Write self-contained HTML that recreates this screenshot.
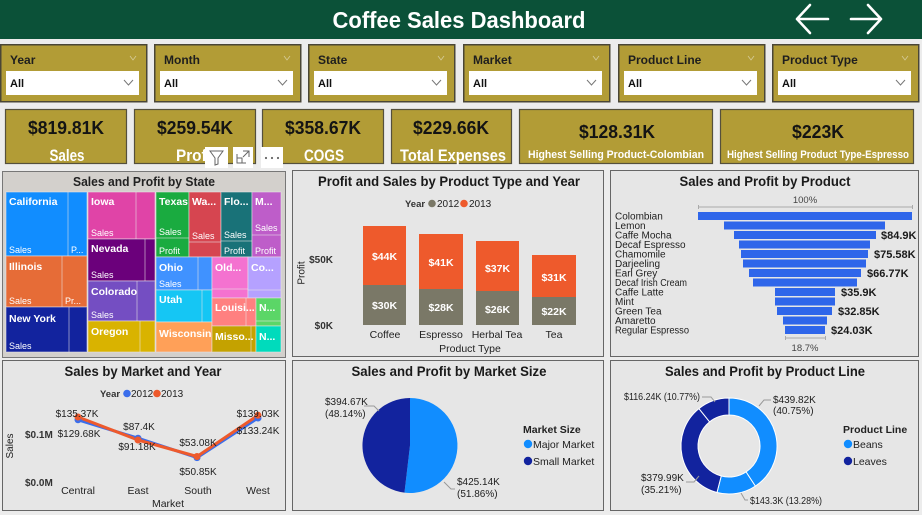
<!DOCTYPE html>
<html><head><meta charset="utf-8"><style>
html,body{margin:0;padding:0;background:#ececec;}
svg{display:block;}
text{font-family:"Liberation Sans",Arial,sans-serif;}
.b{font-weight:bold;}
</style></head><body>
<svg width="922" height="515" viewBox="0 0 922 515" xmlns="http://www.w3.org/2000/svg">
<rect x="0" y="0" width="922" height="515" fill="#ececec"/>
<!-- Header -->
<rect x="0" y="0" width="922" height="39" fill="#0B5138"/>
<text x="459" y="28" text-anchor="middle" class="b" font-size="23" fill="#fff" textLength="253" lengthAdjust="spacingAndGlyphs">Coffee Sales Dashboard</text>
<g stroke="#fff" stroke-width="2.6" fill="none" stroke-linecap="round" stroke-linejoin="round">
<path d="M828,19 L797,19 M810,5 L797,19 L810,33"/>
<path d="M851,19 L881,19 M868,5 L881,19 L868,33"/>
</g>
<!-- Slicers -->
<g>
<g transform="translate(0,0)">
<rect x="0.75" y="44.75" width="146" height="57" fill="#B29C36" stroke="#4a4636" stroke-width="1.5"/>
<text x="10" y="64" class="b" font-size="12" fill="#1e1e1e">Year</text>
<path d="M130,56 L133,60 L136,56" stroke="#d6cb98" stroke-width="0.8" fill="none"/>
<rect x="6" y="71" width="133" height="24" fill="#fff"/>
<text x="10" y="87" class="b" font-size="11" fill="#111">All</text>
<path d="M124,80 L128.5,85 L133,80" stroke="#777" stroke-width="1" fill="none"/>
</g>
<g transform="translate(154,0)">
<rect x="0.75" y="44.75" width="146" height="57" fill="#B29C36" stroke="#4a4636" stroke-width="1.5"/>
<text x="10" y="64" class="b" font-size="12" fill="#1e1e1e">Month</text>
<path d="M130,56 L133,60 L136,56" stroke="#d6cb98" stroke-width="0.8" fill="none"/>
<rect x="6" y="71" width="133" height="24" fill="#fff"/>
<text x="10" y="87" class="b" font-size="11" fill="#111">All</text>
<path d="M124,80 L128.5,85 L133,80" stroke="#777" stroke-width="1" fill="none"/>
</g>
<g transform="translate(308,0)">
<rect x="0.75" y="44.75" width="146" height="57" fill="#B29C36" stroke="#4a4636" stroke-width="1.5"/>
<text x="10" y="64" class="b" font-size="12" fill="#1e1e1e">State</text>
<path d="M130,56 L133,60 L136,56" stroke="#d6cb98" stroke-width="0.8" fill="none"/>
<rect x="6" y="71" width="133" height="24" fill="#fff"/>
<text x="10" y="87" class="b" font-size="11" fill="#111">All</text>
<path d="M124,80 L128.5,85 L133,80" stroke="#777" stroke-width="1" fill="none"/>
</g>
<g transform="translate(463,0)">
<rect x="0.75" y="44.75" width="146" height="57" fill="#B29C36" stroke="#4a4636" stroke-width="1.5"/>
<text x="10" y="64" class="b" font-size="12" fill="#1e1e1e">Market</text>
<path d="M130,56 L133,60 L136,56" stroke="#d6cb98" stroke-width="0.8" fill="none"/>
<rect x="6" y="71" width="133" height="24" fill="#fff"/>
<text x="10" y="87" class="b" font-size="11" fill="#111">All</text>
<path d="M124,80 L128.5,85 L133,80" stroke="#777" stroke-width="1" fill="none"/>
</g>
<g transform="translate(618,0)">
<rect x="0.75" y="44.75" width="146" height="57" fill="#B29C36" stroke="#4a4636" stroke-width="1.5"/>
<text x="10" y="64" class="b" font-size="12" fill="#1e1e1e">Product Line</text>
<path d="M130,56 L133,60 L136,56" stroke="#d6cb98" stroke-width="0.8" fill="none"/>
<rect x="6" y="71" width="133" height="24" fill="#fff"/>
<text x="10" y="87" class="b" font-size="11" fill="#111">All</text>
<path d="M124,80 L128.5,85 L133,80" stroke="#777" stroke-width="1" fill="none"/>
</g>
<g transform="translate(772,0)">
<rect x="0.75" y="44.75" width="146" height="57" fill="#B29C36" stroke="#4a4636" stroke-width="1.5"/>
<text x="10" y="64" class="b" font-size="12" fill="#1e1e1e">Product Type</text>
<path d="M130,56 L133,60 L136,56" stroke="#d6cb98" stroke-width="0.8" fill="none"/>
<rect x="6" y="71" width="133" height="24" fill="#fff"/>
<text x="10" y="87" class="b" font-size="11" fill="#111">All</text>
<path d="M124,80 L128.5,85 L133,80" stroke="#777" stroke-width="1" fill="none"/>
</g>
</g>
<!-- KPI cards -->
<g fill="#B29C36" stroke="#55503c" stroke-width="1.2">
<rect x="5.5" y="109.5" width="121" height="54"/>
<rect x="134.5" y="109.5" width="121" height="54"/>
<rect x="262.5" y="109.5" width="121" height="54"/>
<rect x="391.5" y="109.5" width="120" height="54"/>
<rect x="519.5" y="109.5" width="193" height="54"/>
<rect x="720.5" y="109.5" width="193" height="54"/>
</g>
<g fill="#141414" class="b" text-anchor="middle">
<text x="66" y="134" font-size="18" class="b" textLength="76" lengthAdjust="spacingAndGlyphs">$819.81K</text>
<text x="67" y="161" font-size="17" class="b" fill="#fff" textLength="35" lengthAdjust="spacingAndGlyphs">Sales</text>
<text x="195" y="134" font-size="18" class="b" textLength="76" lengthAdjust="spacingAndGlyphs">$259.54K</text>
<text x="196" y="161" font-size="17" class="b" fill="#fff" textLength="40" lengthAdjust="spacingAndGlyphs">Profit</text>
<text x="323" y="134" font-size="18" class="b" textLength="76" lengthAdjust="spacingAndGlyphs">$358.67K</text>
<text x="324" y="161" font-size="17" class="b" fill="#fff" textLength="40" lengthAdjust="spacingAndGlyphs">COGS</text>
<text x="451" y="134" font-size="18" class="b" textLength="76" lengthAdjust="spacingAndGlyphs">$229.66K</text>
<text x="453" y="161" font-size="17" class="b" fill="#fff" textLength="106" lengthAdjust="spacingAndGlyphs">Total Expenses</text>
<text x="617" y="138" font-size="18" class="b" textLength="76" lengthAdjust="spacingAndGlyphs">$128.31K</text>
<text x="616" y="158" font-size="11" class="b" fill="#fff" textLength="176" lengthAdjust="spacingAndGlyphs">Highest Selling Product-Colombian</text>
<text x="818" y="138" font-size="18" class="b" textLength="52" lengthAdjust="spacingAndGlyphs">$223K</text>
<text x="818" y="158" font-size="11" class="b" fill="#fff" textLength="182" lengthAdjust="spacingAndGlyphs">Highest Selling Product Type-Espresso</text>
</g>
<!-- Panels -->
<rect x="2.5" y="171.5" width="283" height="186" fill="#d3d0cc" stroke="#777" stroke-width="1"/>
<rect x="292.5" y="170.5" width="311" height="186" fill="#e6e6e6" stroke="#666" stroke-width="1"/>
<rect x="610.5" y="170.5" width="308" height="186" fill="#e6e6e6" stroke="#666" stroke-width="1"/>
<rect x="2.5" y="360.5" width="283" height="150" fill="#e6e6e6" stroke="#666" stroke-width="1"/>
<rect x="292.5" y="360.5" width="311" height="150" fill="#e6e6e6" stroke="#666" stroke-width="1"/>
<rect x="610.5" y="360.5" width="308" height="150" fill="#e6e6e6" stroke="#666" stroke-width="1"/>
<!-- Visual header icons -->
<rect x="205" y="147" width="23" height="21" fill="#fff"/>
<rect x="233" y="147" width="20" height="21" fill="#fff"/>
<rect x="261" y="147" width="22" height="21" fill="#fff"/>
<path d="M210,151 L223,151 L218,158 L218,164 L215,165 L215,158 Z" fill="none" stroke="#666" stroke-width="1"/>
<path d="M237,154 L237,163 L246,163 M237,158 L242,158 L242,163 M243,151 L249,151 L249,157 M249,151 L243,157" fill="none" stroke="#666" stroke-width="1"/>
<g fill="#666"><circle cx="266" cy="158" r="1.1"/><circle cx="272" cy="158" r="1.1"/><circle cx="278" cy="158" r="1.1"/></g>
<!-- Treemap -->
<text x="144" y="186" text-anchor="middle" class="b" font-size="13" fill="#222" textLength="142" lengthAdjust="spacingAndGlyphs">Sales and Profit by State</text>
<g stroke="#e9e5e8" stroke-opacity="0.55" stroke-width="1">
<rect x="6" y="192" width="81" height="64" fill="#118DFF"/>
<rect x="6" y="256" width="81" height="51" fill="#E66C37"/>
<rect x="6" y="307" width="81" height="45" fill="#12239E"/>
<rect x="88" y="192" width="67" height="47" fill="#E044A7"/>
<rect x="88" y="239" width="67" height="42" fill="#6B007B"/>
<rect x="88" y="281" width="67" height="40" fill="#744EC2"/>
<rect x="88" y="321" width="67" height="31" fill="#D9B300"/>
<rect x="156" y="192" width="33" height="65" fill="#1AAB40"/>
<rect x="189" y="192" width="32" height="65" fill="#D64550"/>
<rect x="221" y="192" width="31" height="65" fill="#197278"/>
<rect x="252" y="192" width="29" height="65" fill="#BE5DC9"/>
<rect x="156" y="257" width="56" height="33" fill="#4092FF"/>
<rect x="156" y="290" width="56" height="32" fill="#15C6F4"/>
<rect x="156" y="322" width="56" height="30" fill="#FFA058"/>
<rect x="212" y="257" width="36" height="41" fill="#F472D0"/>
<rect x="248" y="257" width="33" height="41" fill="#B5A1FF"/>
<rect x="212" y="298" width="44" height="28" fill="#FF8080"/>
<rect x="256" y="298" width="25" height="28" fill="#5BD667"/>
<rect x="212" y="326" width="44" height="26" fill="#C4A200"/>
<rect x="256" y="326" width="25" height="26" fill="#00DBBC"/>
<path d="M68,192 V256 M62,256 V307 M69,307 V352 M136,192 V239 M145,239 V281 M137,281 V321 M140,321 V352 M156,238 H189 M189,242 H221 M221,241 H252 M252,235 H281 M198,257 V290 M202,290 V322 M212,289 H248 M248,290 H281 M246,298 V326 M256,321 H281 M251,326 V352" fill="none"/>
</g>
<g fill="#fff" font-size="10.5" class="b">
<text x="9" y="205">California</text>
<text x="9" y="270">Illinois</text>
<text x="9" y="322">New York</text>
<text x="91" y="205">Iowa</text>
<text x="91" y="252">Nevada</text>
<text x="91" y="295">Colorado</text>
<text x="91" y="335">Oregon</text>
<text x="159" y="205">Texas</text>
<text x="192" y="205">Wa...</text>
<text x="224" y="205">Flo...</text>
<text x="255" y="205">M...</text>
<text x="159" y="271">Ohio</text>
<text x="159" y="303">Utah</text>
<text x="159" y="337">Wisconsin</text>
<text x="215" y="271">Old...</text>
<text x="251" y="271">Co...</text>
<text x="215" y="311">Louisi...</text>
<text x="259" y="311">N...</text>
<text x="215" y="340">Misso...</text>
<text x="259" y="340">N...</text>
</g>
<g fill="#fff" font-size="9">
<text x="9" y="253">Sales</text><text x="71" y="253">P...</text>
<text x="9" y="304">Sales</text><text x="65" y="304">Pr...</text>
<text x="9" y="349">Sales</text>
<text x="91" y="236">Sales</text>
<text x="91" y="278">Sales</text>
<text x="91" y="318">Sales</text>
<text x="159" y="235">Sales</text><text x="159" y="254">Profit</text>
<text x="192" y="239">Sales</text>
<text x="224" y="238">Sales</text><text x="224" y="254">Profit</text>
<text x="255" y="231">Sales</text><text x="255" y="254">Profit</text>
<text x="159" y="287">Sales</text>
</g>
<!-- Profit and Sales by Product Type and Year -->
<text x="449" y="186" text-anchor="middle" class="b" font-size="14" fill="#1a1a1a" textLength="262" lengthAdjust="spacingAndGlyphs">Profit and Sales by Product Type and Year</text>
<text x="405" y="207" class="b" font-size="9.5" fill="#333">Year</text>
<circle cx="432" cy="203.5" r="3.8" fill="#7A7867"/>
<text x="437" y="207" font-size="10" fill="#222">2012</text>
<circle cx="464" cy="203.5" r="3.8" fill="#EE5A2C"/>
<text x="469" y="207" font-size="10" fill="#222">2013</text>
<g fill="#EE5A2C">
<rect x="363" y="226" width="43" height="59"/>
<rect x="419" y="234" width="44" height="55"/>
<rect x="476" y="241" width="43" height="50"/>
<rect x="532" y="255" width="44" height="42"/>
</g>
<g fill="#7A7867">
<rect x="363" y="285" width="43" height="40"/>
<rect x="419" y="289" width="44" height="36"/>
<rect x="476" y="291" width="43" height="34"/>
<rect x="532" y="297" width="44" height="28"/>
</g>
<g fill="#fff" class="b" font-size="10.5" text-anchor="middle">
<text x="384.5" y="260">$44K</text><text x="384.5" y="309">$30K</text>
<text x="441" y="266">$41K</text><text x="441" y="311">$28K</text>
<text x="497.5" y="272">$37K</text><text x="497.5" y="313">$26K</text>
<text x="554" y="281">$31K</text><text x="554" y="315">$22K</text>
</g>
<g fill="#333" font-size="10" class="b" text-anchor="end">
<text x="333" y="263">$50K</text>
<text x="333" y="329">$0K</text>
</g>
<text x="0" y="0" font-size="10" fill="#222" text-anchor="middle" transform="translate(304.5,273) rotate(-90)">Profit</text>
<g fill="#222" font-size="10.5" text-anchor="middle">
<text x="385" y="338">Coffee</text>
<text x="441" y="338">Espresso</text>
<text x="497" y="338">Herbal Tea</text>
<text x="554" y="338">Tea</text>
<text x="470" y="352">Product Type</text>
</g>
<!-- Funnel -->
<text x="765" y="186" text-anchor="middle" class="b" font-size="14" fill="#1a1a1a" textLength="171" lengthAdjust="spacingAndGlyphs">Sales and Profit by Product</text>
<text x="805" y="203" text-anchor="middle" font-size="9.5" fill="#444">100%</text>
<path d="M698.5,205 V209 M698.5,207 H912.5 M912.5,205 V209" stroke="#aaa" stroke-width="1" fill="none"/>
<g fill="#2F66EA">
<rect x="698" y="212" width="214" height="8"/>
<rect x="724" y="221.5" width="161" height="8"/>
<rect x="734" y="231" width="142" height="8"/>
<rect x="739" y="240.5" width="131" height="8"/>
<rect x="741" y="250" width="127" height="8"/>
<rect x="743" y="259.5" width="123" height="8"/>
<rect x="749" y="269" width="112" height="8"/>
<rect x="753" y="278.5" width="104" height="8"/>
<rect x="775" y="288" width="60" height="8"/>
<rect x="775" y="297.5" width="60" height="8"/>
<rect x="777" y="307" width="55" height="8"/>
<rect x="783" y="316.5" width="44" height="8"/>
<rect x="785" y="326" width="40" height="8"/>
</g>
<g fill="#1e1e1e" font-size="10">
<text x="615" y="219.5">Colombian</text>
<text x="615" y="229">Lemon</text>
<text x="615" y="238.5">Caffe Mocha</text>
<text x="615" y="248">Decaf Espresso</text>
<text x="615" y="257.5">Chamomile</text>
<text x="615" y="267">Darjeeling</text>
<text x="615" y="276.5">Earl Grey</text>
<text x="615" y="286" textLength="72" lengthAdjust="spacingAndGlyphs">Decaf Irish Cream</text>
<text x="615" y="295.5">Caffe Latte</text>
<text x="615" y="305">Mint</text>
<text x="615" y="314.5">Green Tea</text>
<text x="615" y="324">Amaretto</text>
<text x="615" y="333.5" textLength="74" lengthAdjust="spacingAndGlyphs">Regular Espresso</text>
</g>
<g fill="#1a1a1a" font-size="11" class="b">
<text x="881" y="239">$84.9K</text>
<text x="874" y="258">$75.58K</text>
<text x="867" y="277">$66.77K</text>
<text x="841" y="296">$35.9K</text>
<text x="838" y="315">$32.85K</text>
<text x="831" y="334">$24.03K</text>
</g>
<path d="M785.5,336 V340 M785.5,338 H825.5 M825.5,336 V340" stroke="#aaa" stroke-width="1" fill="none"/>
<text x="805" y="351" text-anchor="middle" font-size="9.5" fill="#444">18.7%</text>
<!-- Sales by Market and Year -->
<text x="143" y="376" text-anchor="middle" class="b" font-size="14" fill="#1a1a1a" textLength="157" lengthAdjust="spacingAndGlyphs">Sales by Market and Year</text>
<text x="100" y="397" class="b" font-size="9.5" fill="#333">Year</text>
<circle cx="127" cy="393.5" r="3.8" fill="#3B6EEB"/>
<text x="131" y="397" font-size="10" fill="#222">2012</text>
<circle cx="157" cy="393.5" r="3.8" fill="#EE5A2C"/>
<text x="161" y="397" font-size="10" fill="#222">2013</text>
<g fill="#333" font-size="10" class="b">
<text x="25" y="438">$0.1M</text>
<text x="25" y="486">$0.0M</text>
</g>
<text x="0" y="0" font-size="10" fill="#222" text-anchor="middle" transform="translate(13,446) rotate(-90)">Sales</text>
<g fill="#222" font-size="10.5" text-anchor="middle">
<text x="78" y="494">Central</text>
<text x="138" y="494">East</text>
<text x="198" y="494">South</text>
<text x="258" y="494">West</text>
<text x="168" y="507">Market</text>
</g>
<polyline points="78,419.8 138,438.2 197,457.6 258,418" fill="none" stroke="#3B6EEB" stroke-width="3" stroke-linejoin="round"/>
<polyline points="78,417 138,440 197,456.5 258,415.3" fill="none" stroke="#EE5A2C" stroke-width="3" stroke-linejoin="round"/>
<g fill="#3B6EEB"><circle cx="78" cy="419.8" r="3.5"/><circle cx="138" cy="438.2" r="3.5"/><circle cx="197" cy="457.6" r="3.5"/><circle cx="258" cy="418" r="3.5"/></g>
<g fill="#EE5A2C"><circle cx="78" cy="417" r="3.5"/><circle cx="138" cy="440" r="3.5"/><circle cx="197" cy="456.5" r="3.5"/><circle cx="258" cy="415.3" r="3.5"/></g>
<g fill="#1e1e1e" font-size="10" text-anchor="middle">
<text x="77" y="417">$135.37K</text>
<text x="79" y="437">$129.68K</text>
<text x="139" y="430">$87.4K</text>
<text x="137" y="450">$91.18K</text>
<text x="198" y="446">$53.08K</text>
<text x="198" y="475">$50.85K</text>
<text x="258" y="417">$139.03K</text>
<text x="258" y="434">$133.24K</text>
</g>
<!-- Market Size pie -->
<text x="449" y="376" text-anchor="middle" class="b" font-size="14" fill="#1a1a1a" textLength="195" lengthAdjust="spacingAndGlyphs">Sales and Profit by Market Size</text>
<path d="M410,445.5 L410,398 A47.5,47.5 0 1 1 404.46,492.68 Z" fill="#118DFF"/>
<path d="M410,445.5 L404.46,492.68 A47.5,47.5 0 0 1 410,398 Z" fill="#12239E"/>
<g fill="#1e1e1e" font-size="10">
<text x="325" y="405">$394.67K</text>
<text x="325" y="417">(48.14%)</text>
<text x="457" y="485">$425.14K</text>
<text x="457" y="497">(51.86%)</text>
</g>
<polyline points="364,406 374,406 379,411" fill="none" stroke="#999" stroke-width="1"/>
<polyline points="444,482 451,489 455,489" fill="none" stroke="#999" stroke-width="1"/>
<text x="523" y="433" class="b" font-size="10.5" fill="#222">Market Size</text>
<circle cx="528" cy="444" r="4.2" fill="#118DFF"/>
<text x="533" y="448" font-size="10.5" fill="#222">Major Market</text>
<circle cx="528" cy="461" r="4.2" fill="#12239E"/>
<text x="533" y="465" font-size="10.5" fill="#222">Small Market</text>
<!-- Product Line donut -->
<text x="765" y="376" text-anchor="middle" class="b" font-size="14" fill="#1a1a1a" textLength="200" lengthAdjust="spacingAndGlyphs">Sales and Profit by Product Line</text>
<g stroke="#fff" stroke-width="1">
<path d="M729,398 A48,48 0 0 1 755.35,486.12 L746.02,471.91 A31,31 0 0 0 729,415 Z" fill="#118DFF"/>
<path d="M755.35,486.12 A48,48 0 0 1 716.98,492.47 L721.24,476.01 A31,31 0 0 0 746.02,471.91 Z" fill="#118DFF"/>
<path d="M716.98,492.47 A48,48 0 0 1 698.92,408.59 L709.58,421.84 A31,31 0 0 0 721.24,476.01 Z" fill="#12239E"/>
<path d="M698.92,408.59 A48,48 0 0 1 729,398 L729,415 A31,31 0 0 0 709.58,421.84 Z" fill="#12239E"/>
</g>
<g fill="#1e1e1e" font-size="10">
<text x="624" y="400" textLength="76" lengthAdjust="spacingAndGlyphs">$116.24K (10.77%)</text>
<text x="773" y="403">$439.82K</text>
<text x="773" y="414">(40.75%)</text>
<text x="641" y="481">$379.99K</text>
<text x="641" y="493">(35.21%)</text>
<text x="750" y="504" textLength="72" lengthAdjust="spacingAndGlyphs">$143.3K (13.28%)</text>
</g>
<g fill="none" stroke="#999" stroke-width="1">
<polyline points="702,397 711,397 715,402"/>
<polyline points="759,406 764,400 771,400"/>
<polyline points="686,482 694,482 699,476"/>
<polyline points="741,493 745,500 748,500"/>
</g>
<text x="843" y="433" class="b" font-size="10.5" fill="#222">Product Line</text>
<circle cx="848" cy="444" r="4.2" fill="#118DFF"/>
<text x="853" y="448" font-size="10.5" fill="#222">Beans</text>
<circle cx="848" cy="461" r="4.2" fill="#12239E"/>
<text x="853" y="465" font-size="10.5" fill="#222">Leaves</text>
</svg>
</body></html>
